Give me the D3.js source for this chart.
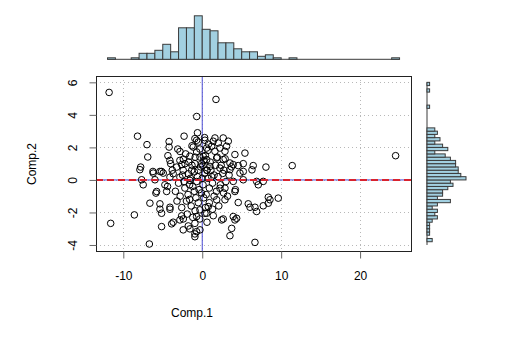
<!DOCTYPE html>
<html>
<head>
<meta charset="utf-8">
<script src="https://cdn.jsdelivr.net/npm/d3@7"></script>
<style>
  body { margin: 0; background: #fff; }
  text { font-family: "Liberation Sans", Arial, sans-serif; font-size: 12px; fill: #000; }
</style>
</head>
<body>
<svg id="chart" width="522" height="347"></svg>
<script>
// scatter points (Comp.1, Comp.2)
var comp1 = [
  -11.8, 1.74, -0.7, 24.5, 11.4, -11.6, -8.6, -6.7, 6.68, -8.2, -7.0, -6.9, -4.2, -4.2, -4.35, -4.1, -2.3, -7.8, -2.82, -2.4, -2.6, -1.56, -6.25, -5.15,
  1.61, 1.39, 2.66, 3.30, 2.03, 1.19, 2.24, 3.09, 0.56, 1.61, 2.88, 4.14, 5.41, 1.83, 2.66, 3.51, 0.56, 0.13, 3.93, 4.56, 5.20, 6.46, 8.07, 0.98, 2.24,
  2.75, 3.51, 4.78, 5.20, 6.3, 3.93, 4.14, 5.20, 6.89, 7.10, 7.73, 2.24, 2.88, 1.83, 2.88, 4.56, 5.83, 6.05, 6.68, 6.89, 7.73, 8.37, 8.58, 8.37, 9.63, 0.76, 0.56, 2.46, 2.66, 3.93, 4.14, 4.36, 3.73, 3.51, 0.34, -0.29,
  -7.90, -6.21, -5.36, -4.94, -7.68, -7.48, -5.99, -5.78, -4.73, -4.51, -6.63, -5.36, -5.15, -4.09, -5.15, -3.88, -2.61, -2.83, -1.77, -2.41, -0.93, -0.71, -0.93, -0.29, -0.71,
  -5.87, -5.36, -4.09, -3.68, -1.56, -0.93,
  -0.93, -0.71, -0.51, -1.14, -0.71, -0.29, -0.08, -0.93, -1.34, -1.77, -2.41, -2.19, -2.83, -3.24, -3.68, -4.09, -2.83, -1.56,
  0.34, 0.73, 0.09, 0.6,
  -3.0, -2.5, -2.2, -1.8, -1.5, -1.2, -1.0, -0.8, -0.6, -0.4, -0.2, 0.1, 0.3, 0.5, 0.7, 0.9, 1.1, 1.3, 1.5, 1.8, 2.0, 2.3, 2.6, 3.0,
  -2.8, -2.0, -1.4, -0.9, -0.5, 0.2, 0.9, 1.5, -3.4, -2.6, -1.9, -1.2,
  -1.7, -0.9, -0.3, 0.4, 1.0, 1.7, -2.1, -1.3, 0.8, 1.2,
  -0.7, 0.0, 0.6, -1.6, 2.7, 3.4, -3.8, -4.4, -0.1, 0.4, 1.3, -1.0, -2.3, 1.9, 2.4, -0.5, 0.2, -1.3,
  -3.2, -2.4, -1.6, -0.3, 0.6, 1.4, 2.1, 3.2, 4.2, 3.7, 2.9, -4.0, -3.1, -0.6, 0.3
];
var comp2 = [
  5.38, 4.95, 3.9, 1.49, 0.88, -2.67, -2.15, -3.94, -3.84, 2.69, 2.17, 1.41, 2.36, 2.02, 1.49, 1.2, 2.69, 0.79, 1.75, 1.28, 0.94, 1.46, 0.52, 0.52,
  2.58, 2.38, 2.58, 2.38, 2.27, 2.07, 1.96, 2.07, 1.96, 1.76, 1.76, 1.56, 1.65, 1.35, 1.25, 1.04, 1.25, 1.45, 0.94, 0.88, 1.0, 0.88, 0.79, 0.83, 0.73,
  0.6, 0.63, 0.42, 0.52, 0.62, -0.09, -0.71, 0.01, -0.09, -0.30, -0.09, -0.51, -0.51, -1.22, -1.22, -1.39, -1.47, -1.68, -1.68, -1.94, -1.59, -1.06, -1.22, -1.43, -1.12, -1.64, -2.05, -2.46, -2.40, -2.25, -2.46, -2.36, -2.98, -3.43, -2.05, -3.07,
  0.63, 0.42, 0.52, 0.42, 0.01, -0.30, 0.01, -0.71, -0.30, -0.71, -1.43, -1.80, -2.05, -1.80, -2.87, -2.70, -2.21, -2.46, -2.83, -3.07, -2.67, -3.18, -3.49, -1.84, -2.25,
  -0.81, -1.47, -1.68, -2.6, -3.01, -3.32,
  2.54, 2.44, 2.33, 2.02, 1.72, 1.41, 1.0, 1.0, 0.59, 0.38, 0.59, 1.0, 1.2, 0.79, 0.38, 0.17, 0.17, -0.03,
  2.44, 1.82, 0.9, 0.59,
  -0.2, 0.3, -0.5, -0.9, 0.1, -0.4, 0.5, -1.1, 0.2, -0.6, 0.8, -0.3, 0.4, -0.9, 0.1, -0.5, 0.6, -0.2, 0.3, -0.7, 0.2, -0.3, 0.4, -0.1,
  -1.0, -1.3, -1.6, -1.9, -1.4, -1.1, -1.4, -1.0, -0.7, -1.7, -2.1, -2.3,
  1.1, 1.4, 1.9, 1.5, 1.1, 0.9, 1.6, 2.1, 2.2, 0.2,
  -0.1, 0.1, 0.6, -0.3, -0.8, 0.3, 0.6, -0.4, -0.8, -1.7, -1.8, -0.7, -0.1, 1.4, 0.9, 0.6, 1.2, 0.9,
  -1.3, -2.4, -1.2, -2.4, -2.6, -2.2, -1.6, -1.0, -0.6, 0.8, 1.3, 1.0, 1.9, 2.9, 2.6
];

// marginal histogram of Comp.1: bins of width 1 from -12 to 25
var xBinStarts = d3.range(-12, 25, 1);
var xBinCounts = [1,0,0,1,4,4,6,10,5,21,21,29,20,19,11,11,7,5,5,2,3,1,0,1,0,0,0,0,0,0,0,0,0,0,0,0,1];

// marginal histogram of Comp.2: bins of width 0.2 from -4 to 6
var yBinStarts = d3.range(0, 50).map(function(i) { return -4 + i * 0.2; });
var yBinCounts = [0,2,0,1,1,1,1,2,4,3,4,2,4,9,4,6,6,8,10,9,15,13,12,12,11,11,9,7,3,8,6,3,5,3,4,3,0,0,0,0,0,0,1,0,0,0,0,1,0,1];

var xTicks = [-10, 0, 10, 20];
var yTicks = [-4, -2, 0, 2, 4, 6];

var svg = d3.select("#chart");

//plot box
var pLeft = 96, pRight = 411, pTop = 76, pBottom = 251;

var x = d3.scaleLinear().domain([-13.46, 26.45]).range([pLeft, pRight]);
var y = d3.scaleLinear().domain([-4.37, 6.39]).range([pBottom, pTop]);

var fillCol = "#a2d0e1", edgeCol = "#3a3a3a";
var fmt = function(d) { return String(d); }; // plain hyphen minus like R

// top histogram
var hx = d3.scaleLinear().domain([0, 29]).range([59.3, 15.8]);
svg.append("line") // baseline shows through empty bins
  .attr("x1", x(-12)).attr("x2", x(25))
  .attr("y1", hx(0)).attr("y2", hx(0))
  .style("stroke", edgeCol).style("stroke-width", 1);
svg.append("g").selectAll("rect")
  .data(xBinStarts)
  .enter()
  .append("rect")
    .attr("x", function(d) { return x(d); })
    .attr("y", function(d, i) { return hx(xBinCounts[i]); })
    .attr("width", function(d) { return x(d + 1) - x(d); })
    .attr("height", function(d, i) { return hx(0) - hx(xBinCounts[i]); })
    .style("fill", fillCol)
    .style("stroke", edgeCol)
    .style("stroke-width", 1);

// right histogram
var hy = d3.scaleLinear().domain([0, 15]).range([427, 466]);
svg.append("line")
  .attr("x1", hy(0)).attr("x2", hy(0))
  .attr("y1", y(-4)).attr("y2", y(6))
  .style("stroke", edgeCol).style("stroke-width", 1);
svg.append("g").selectAll("rect")
  .data(yBinStarts)
  .enter()
  .append("rect")
    .attr("x", hy(0))
    .attr("y", function(d) { return y(d + 0.2); })
    .attr("width", function(d, i) { return hy(yBinCounts[i]) - hy(0); })
    .attr("height", function(d) { return y(d) - y(d + 0.2); })
    .style("fill", fillCol)
    .style("stroke", edgeCol)
    .style("stroke-width", 1);

// dotted grid
var grid = svg.append("g").style("stroke", "#b8b8b8").style("stroke-dasharray", "1,3");
grid.selectAll("line.gx").data(xTicks).enter().append("line")
  .attr("x1", function(d) { return Math.round(x(d)) + 0.5; })
  .attr("x2", function(d) { return Math.round(x(d)) + 0.5; })
  .attr("y1", pTop).attr("y2", pBottom);
grid.selectAll("line.gy").data(yTicks).enter().append("line")
  .attr("y1", function(d) { return Math.round(y(d)) + 0.5; })
  .attr("y2", function(d) { return Math.round(y(d)) + 0.5; })
  .attr("x1", pLeft).attr("x2", pRight);

// reference lines at zero
svg.append("line")
  .attr("x1", x(0)).attr("x2", x(0)).attr("y1", pTop).attr("y2", pBottom)
  .style("stroke", "#4b4bd6").style("stroke-width", 1);
svg.append("line")
  .attr("x1", pLeft).attr("x2", pRight).attr("y1", y(0)).attr("y2", y(0))
  .style("stroke", "#4b4bd6").style("stroke-width", 1);

// points
svg.append("g").selectAll("circle")
  .data(comp1)
  .enter()
  .append("circle")
    .attr("cx", function(d) { return x(d); })
    .attr("cy", function(d, i) { return y(comp2[i]); })
    .attr("r", 3.3)
    .style("fill", "none")
    .style("stroke", "#000")
    .style("stroke-width", 1);

// least squares line (flat, components uncorrelated)
svg.append("line")
  .attr("x1", pLeft).attr("x2", pRight)
  .attr("y1", y(0)).attr("y2", y(0))
  .style("stroke", "#d9232e").style("stroke-width", 2)
  .style("stroke-dasharray", "7,4");

// box
svg.append("rect")
  .attr("x", pLeft + 0.5).attr("y", pTop + 0.5)
  .attr("width", pRight - pLeft).attr("height", pBottom - pTop)
  .style("fill", "none").style("stroke", "#222").style("stroke-width", 1);

// axes
var xAxis = svg.append("g")
  .attr("transform", "translate(0," + (pBottom + 0.5) + ")")
  .call(d3.axisBottom(x).tickValues(xTicks).tickSize(7).tickPadding(13).tickFormat(fmt));
var yAxis = svg.append("g")
  .attr("transform", "translate(" + (pLeft + 0.5) + ",0)")
  .call(d3.axisLeft(y).tickValues(yTicks).tickSize(7).tickFormat(fmt));

[xAxis, yAxis].forEach(function(a) {
  a.select(".domain").remove();
  a.selectAll(".tick line").style("stroke", "#666");
  a.selectAll(".tick text").style("font-size", "12px").style("font-family", "Liberation Sans, Arial, sans-serif").attr("fill", "#000");
});

yAxis.selectAll(".tick text")
  .attr("x", 0).attr("dy", 0)
  .attr("text-anchor", "middle")
  .attr("transform", "translate(-20,0) rotate(-90)");

// axis titles
svg.append("text").attr("x", 192).attr("y", 317).attr("text-anchor", "middle").text("Comp.1");
svg.append("text").attr("transform", "translate(36,164) rotate(-90)").attr("text-anchor", "middle").text("Comp.2");
</script>
</body>
</html>
